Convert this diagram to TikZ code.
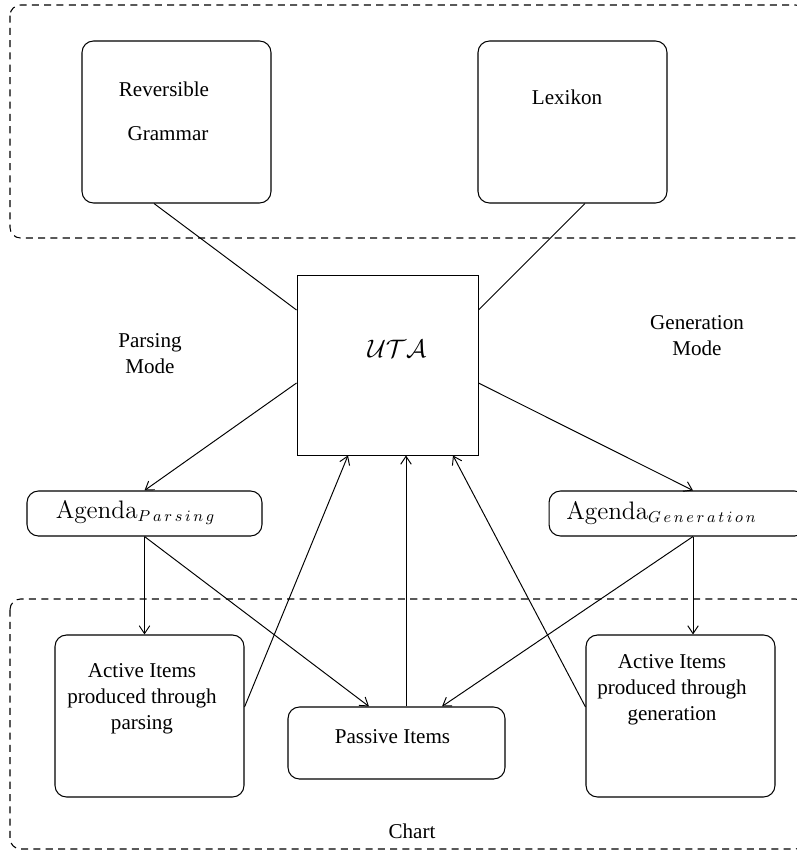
\documentclass[tikz,border=0pt]{standalone}
\usepackage[no-math]{fontspec}
\usepackage{amsmath}
\usepackage{amssymb}
\setmainfont{Liberation Serif}
\usetikzlibrary{arrows.meta,calc,positioning}

\newcommand{\agsub}[1]{\raisebox{-1.8pt}{$\scriptstyle #1$}}

\tikzset{
  lbl/.style = {align=center, inner sep=0pt, font=\fontsize{12}{14.8}\selectfont},
  aglbl/.style = {inner sep=0pt, font=\fontsize{13.5}{16}\selectfont},
  rbox/.style = {draw, rounded corners=6.5pt, line width=0.6pt, inner sep=0pt},
  sqbox/.style = {draw, line width=0.55pt, inner sep=0pt},
  dashbox/.style = {draw, dash pattern=on 4pt off 3pt, rounded corners=6pt, line width=0.6pt},
  conn/.style = {line width=0.55pt},
  arr/.style = {conn, -{Straight Barb[length=4.5pt,width=6pt]}},
}

\begin{document}
\begin{tikzpicture}[x=0.02cm, y=-0.02cm]
  \clip (0,0) rectangle (797,852);

  % the two dashed regions
  \draw[dashbox] (10,5) rectangle (806,238);
  \draw[dashbox] (10,599) rectangle (806,849);

  % knowledge sources
  \node[rbox, minimum width=3.78cm, minimum height=3.24cm] (gram) at (176.5,122) {};
  \node[rbox, minimum width=3.78cm, minimum height=3.24cm] (lex) at (572.5,122) {};
  \node[lbl] (rev) at (164,89) {Reversible};
  \node[lbl] (gramtxt) at (168,134) {Grammar};
  \node[lbl] (lextxt) at (567,97) {Lexikon};

  % uniform tabular algorithm
  \node[sqbox, minimum width=3.62cm, minimum height=3.6cm] (uta) at (387.5,365) {};
  \node[inner sep=0pt, font=\fontsize{14}{16}\selectfont] (utatxt) at (397,349) {$\mathcal{UTA}$};

  \node[lbl] (pmode) at (150,354) {Parsing\\Mode};
  \node[lbl] (gmode) at (697,336) {Generation\\Mode};

  % agendas
  \node[rbox, minimum width=4.7cm, minimum height=0.9cm] (agp) at (144.5,513.5) {};
  \node[rbox, minimum width=5.14cm, minimum height=0.9cm] (agg) at (677.5,513.5) {};
  \node[aglbl] (agptxt) at (135,513) {$\mathrm{Agenda}$\agsub{P\,a\,r\,s\,i\,n\,g}};
  \node[aglbl] (aggtxt) at (661,513) {$\mathrm{Agenda}$\agsub{G\,e\,n\,e\,r\,a\,t\,i\,o\,n}};

  % chart items
  \node[rbox, minimum width=3.78cm, minimum height=3.24cm] (actp) at (149.5,716) {};
  \node[rbox, minimum width=4.34cm, minimum height=1.44cm] (pass) at (396.5,743) {};
  \node[rbox, minimum width=3.78cm, minimum height=3.24cm] (actg) at (680.5,716) {};
  \node[lbl] (actptxt) at (142,699) {Active Items\\produced through\\parsing};
  \node[lbl] (passtxt) at (392.5,737) {Passive Items};
  \node[lbl] (actgtxt) at (672,690) {Active Items\\produced through\\generation};
  \node[lbl] (chart) at (412,831) {Chart};

  % end points on the borders
  \coordinate (gramout) at ($(gram.south)+(-22.5,0)$);
  \coordinate (lexout) at ($(lex.south)+(12.5,0)$);
  \coordinate (aggin) at ($(agg.north)+(15.5,0)$);
  \coordinate (aggout) at ($(agg.south)+(15.5,0)$);

  % connections
  \draw[conn] (gramout) -- ($(uta.west)+(0,-55)$);
  \draw[conn] (lexout) -- ($(uta.east)+(0,-55)$);

  \draw[arr] ($(uta.west)+(0,18)$) -- (agp.north);
  \draw[arr] ($(uta.east)+(0,18)$) -- (aggin);

  \draw[arr] (agp.south) -- (agp.south |- actp.north);
  \draw[arr] (agp.south) -- ($(pass.north)+(-27.5,0)$);
  \draw[arr] (aggout) -- ($(pass.north)+(45.5,0)$);
  \draw[arr] (aggout) -- (aggout |- actg.north);

  \draw[arr] ($(actp.east)+(0,-9)$) -- ($(uta.south)+(-39.5,0)$);
  \draw[arr] ($(pass.north)+(9.5,0)$) -- ($(uta.south)+(18.5,0)$);
  \draw[arr] ($(actg.west)+(0,-9)$) -- ($(uta.south)+(65.5,0)$);
\end{tikzpicture}
\end{document}
